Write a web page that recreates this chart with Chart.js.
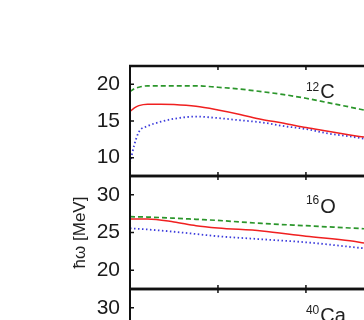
<!DOCTYPE html>
<html>
<head>
<meta charset="utf-8">
<script src="https://cdn.jsdelivr.net/npm/chart.js@4.4.1/dist/chart.umd.min.js"></script>
<style>
html,body{margin:0;padding:0;background:#fff;overflow:hidden;}
body{width:364px;height:320px;position:relative;}
canvas{position:absolute;left:0;}
</style>
</head>
<body>
<canvas id="panelC" style="top:0px" width="364" height="180"></canvas>
<canvas id="panelO" style="top:172px" width="364" height="121"></canvas>
<canvas id="panelCa" style="top:285px" width="364" height="121"></canvas>
<script>
// ================================
// Data
// ================================

const xTicks=[0,1,2];

// 12C panel
const c12X=[0,0.05,0.1,0.2,0.35,0.5,0.75,1.0,1.25,1.5,1.75,2.0,2.25,2.5,2.66];
const c12Green=[19.0,19.4,19.6,19.8,19.8,19.8,19.8,19.6,19.35,19.0,18.6,18.1,17.5,16.9,16.5];
const c12Red=[16.3,16.8,17.1,17.3,17.3,17.25,17.0,16.5,15.9,15.2,14.7,14.1,13.6,13.1,12.8];
const c12Blue=[9.3,11.8,13.5,14.3,14.9,15.3,15.6,15.4,15.1,14.8,14.3,13.9,13.3,12.9,12.6];
const c12Ticks=[10,15,20];

// 16O panel
const o16X=[0,0.2,0.5,0.75,1.0,1.5,2.0,2.5,2.66];
const o16Green=[27.1,27.05,26.9,26.75,26.6,26.2,25.9,25.6,25.5];
const o16Red=[26.8,26.8,26.4,25.9,25.6,25.2,24.5,23.9,23.6];
const o16Blue=[25.55,25.4,25.1,24.8,24.5,24.1,23.7,23.1,22.9];
const o16Ticks=[20,25,30];

// 40Ca panel (only its top is in view)
const ca40Ticks=[20,25,30];

// ================================
// Styles
// ================================

const GREEN="#2b962b";
const RED="#f02020";
const BLUE="#3c3cdc";
const INK="#111";
const FONT="'Liberation Sans', Arial, sans-serif";

function pts(xs,ys){

    return xs.map(function(x,i){ return {x:x,y:ys[i]}; });

}

function lineSets(xs,green,red,blue){

    return [

        {data:pts(xs,green),borderColor:GREEN,borderWidth:1.7,borderDash:[5,3]},

        {data:pts(xs,red),borderColor:RED,borderWidth:1.5},

        {data:pts(xs,blue),borderColor:BLUE,borderWidth:1.8,borderDash:[1.5,2.5]}

    ];

}

// ================================
// Frame + inward ticks + nucleus label
// ================================

const framePlugin={

    id:"frame",

    afterDraw(chart,args,opts){

        const ctx=chart.ctx;
        const a=chart.chartArea;
        const xs=chart.scales.x;
        const ys=chart.scales.y;

        ctx.save();
        ctx.strokeStyle=INK;

        // top / bottom borders
        ctx.lineWidth=2.5;
        ctx.beginPath();
        ctx.moveTo(a.left-1,a.top);
        ctx.lineTo(a.right,a.top);
        ctx.moveTo(a.left-1,a.bottom);
        ctx.lineTo(a.right,a.bottom);
        ctx.stroke();

        // left axis
        ctx.lineWidth=2;
        ctx.beginPath();
        ctx.moveTo(a.left,a.top);
        ctx.lineTo(a.left,a.bottom);
        ctx.stroke();

        // x ticks, pointing inward
        ctx.lineWidth=1.5;
        ctx.beginPath();
        xTicks.forEach(function(v){
            const px=xs.getPixelForValue(v);
            ctx.moveTo(px,a.top);
            ctx.lineTo(px,a.top+4);
            ctx.moveTo(px,a.bottom);
            ctx.lineTo(px,a.bottom-4);
        });

        // y ticks, pointing inward
        ys.ticks.forEach(function(t){
            const py=ys.getPixelForValue(t.value);
            ctx.moveTo(a.left,py);
            ctx.lineTo(a.left+4,py);
        });
        ctx.stroke();

        // nucleus label, mass number as superscript
        const lx=xs.getPixelForValue(2);
        ctx.fillStyle="#222";
        ctx.textBaseline="alphabetic";
        ctx.textAlign="left";
        ctx.font="12px "+FONT;
        ctx.fillText(opts.mass,lx,a.top+opts.supY);
        const w=ctx.measureText(opts.mass).width;
        ctx.font="20px "+FONT;
        ctx.fillText(opts.sym,lx+w+1,a.top+opts.symY);

        ctx.restore();

    }

};

// ================================
// Build one panel
// ================================

function makePanel(id,datasets,yMin,yMax,ticks,label,pad,title){

    return new Chart(document.getElementById(id),{

        type:"line",

        data:{datasets:datasets},

        options:{

            responsive:false,
            animation:false,

            layout:{padding:{top:pad.top,bottom:pad.bottom,left:0,right:0}},

            elements:{
                point:{radius:0},
                line:{cubicInterpolationMode:"monotone",fill:false}
            },

            plugins:{
                legend:{display:false},
                tooltip:{enabled:false},
                frame:label
            },

            scales:{

                x:{
                    type:"linear",
                    display:false,
                    min:0,
                    max:2.66
                },

                y:{
                    min:yMin,
                    max:yMax,
                    border:{display:false},
                    grid:{display:false,drawTicks:false},
                    afterBuildTicks:function(s){
                        s.ticks=ticks.map(function(v){ return {value:v}; });
                    },
                    afterFit:function(s){
                        s.width=130;
                        // tick labels sit well inside the panel, no extra room needed
                        s.paddingTop=0;
                        s.paddingBottom=0;
                    },
                    ticks:{
                        color:"#1a1a1a",
                        padding:10,
                        font:{family:FONT,size:21}
                    },
                    title:{
                        display:!!title,
                        text:title||"",
                        color:"#222",
                        padding:{top:70,bottom:0},
                        font:{family:FONT,size:17}
                    }
                }

            }

        },

        plugins:[framePlugin]

    });

}

// ================================
// Panels
// ================================

makePanel("panelC",lineSets(c12X,c12Green,c12Red,c12Blue),7.5,22.5,c12Ticks,
    {mass:"12",sym:"C",supY:25,symY:32},{top:66,bottom:4});

makePanel("panelO",lineSets(o16X,o16Green,o16Red,o16Blue),17.5,32.5,o16Ticks,
    {mass:"16",sym:"O",supY:28,symY:37},{top:4,bottom:4},"ħω [MeV]");

makePanel("panelCa",[],17.5,32.5,ca40Ticks,
    {mass:"40",sym:"Ca",supY:25,symY:33},{top:4,bottom:4});

</script>
</body>
</html>
